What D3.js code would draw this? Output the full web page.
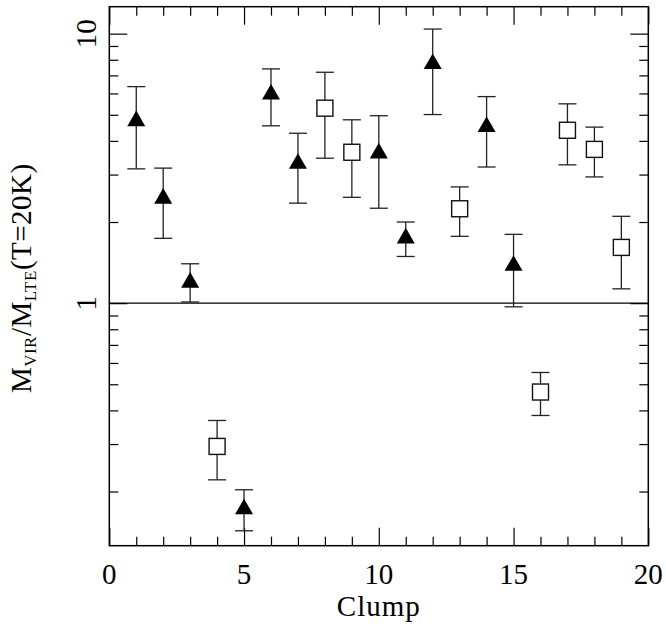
<!DOCTYPE html>
<html>
<head>
<meta charset="utf-8">
<script src="https://cdn.jsdelivr.net/npm/d3@7"></script>
<style>
  body { margin: 0; background: #fff; }
  svg text { font-family: "Liberation Serif", "DejaVu Serif", serif; fill: #000; }
</style>
</head>
<body>
<svg id="chart"></svg>
<script>
(function() {
    // clump number, M_vir/M_lte, upper / lower error limits, marker kind
    const clumps = [1, 2, 3, 4, 5, 6, 7, 8, 9, 10, 11, 12, 13, 14, 15, 16, 17, 18, 19];
    const ratio = [4.85, 2.50, 1.22, 0.294, 0.176, 6.09, 3.37, 5.29, 3.63, 3.68, 1.78, 7.90, 2.24, 4.61, 1.41, 0.468, 4.38, 3.72, 1.61];
    const upper = [6.36, 3.17, 1.40, 0.367, 0.203, 7.40, 4.27, 7.19, 4.79, 4.96, 2.00, 10.4, 2.70, 5.84, 1.80, 0.553, 5.49, 4.50, 2.10];
    const lower = [3.15, 1.74, 1.01, 0.221, 0.143, 4.55, 2.35, 3.45, 2.47, 2.25, 1.49, 5.01, 1.77, 3.20, 0.969, 0.383, 3.26, 2.94, 1.13];
    const kind = ['tri', 'tri', 'tri', 'sq', 'tri', 'tri', 'tri', 'sq', 'sq', 'tri', 'tri', 'tri', 'sq', 'tri', 'tri', 'sq', 'sq', 'sq', 'sq'];

    const xMajor = [0, 5, 10, 15, 20];
    const xMinor = [1, 2, 3, 4, 6, 7, 8, 9, 11, 12, 13, 14, 16, 17, 18, 19];
    const yMajor = [1, 10];
    const yMinor = [0.2, 0.3, 0.4, 0.5, 0.6, 0.7, 0.8, 0.9, 2, 3, 4, 5, 6, 7, 8, 9];

    const W = 666, H = 631;
    const left = 109.3, right = 648.3, top = 6.7, bottom = 545.7;

    const svg = d3.select('svg#chart')
        .attr('width', W)
        .attr('height', H);

    const xScale = d3.scaleLinear()
        .domain([0, 20])
        .range([left, right]);

    const yScale = d3.scaleLog()
        .domain([Math.pow(10, -0.9), Math.pow(10, 1.1)])
        .range([bottom, top]);

    const data = clumps.map((c, i) => ({ clump: c, v: ratio[i], hi: upper[i], lo: lower[i], kind: kind[i] }));

    // inward ticks on all four sides
    function ticks(axisFn, pos, values, size, transform) {
        const g = svg.append('g')
            .attr('transform', transform)
            .call(axisFn(pos).tickValues(values).tickSize(-size).tickFormat(''));
        g.select('.domain').remove();
        g.selectAll('line').attr('stroke', '#000').attr('stroke-width', 1.2);
    }
    ticks(d3.axisBottom, xScale, xMajor, 18, `translate(0, ${bottom})`);
    ticks(d3.axisBottom, xScale, xMinor, 9, `translate(0, ${bottom})`);
    ticks(d3.axisTop, xScale, xMajor, 18, `translate(0, ${top})`);
    ticks(d3.axisTop, xScale, xMinor, 9, `translate(0, ${top})`);
    ticks(d3.axisLeft, yScale, yMajor, 18, `translate(${left}, 0)`);
    ticks(d3.axisLeft, yScale, yMinor, 9, `translate(${left}, 0)`);
    ticks(d3.axisRight, yScale, yMajor, 18, `translate(${right}, 0)`);
    ticks(d3.axisRight, yScale, yMinor, 9, `translate(${right}, 0)`);

    // frame
    svg.append('rect')
        .attr('x', left)
        .attr('y', top)
        .attr('width', right - left)
        .attr('height', bottom - top)
        .attr('fill', 'none')
        .attr('stroke', '#000')
        .attr('stroke-width', 1.5);

    // M = 1 line
    svg.append('line')
        .attr('x1', left)
        .attr('x2', right)
        .attr('y1', yScale(1))
        .attr('y2', yScale(1))
        .attr('stroke', '#000')
        .attr('stroke-width', 1.4);

    // tick labels
    svg.append('g')
        .selectAll('text')
        .data(xMajor)
        .enter()
        .append('text')
        .attr('x', (d) => xScale(d))
        .attr('y', 584)
        .attr('text-anchor', 'middle')
        .style('font-size', '29px')
        .text((d) => d);

    svg.append('g')
        .selectAll('text')
        .data(yMajor)
        .enter()
        .append('text')
        .attr('transform', (d) => `translate(96, ${yScale(d)}) rotate(-90)`)
        .attr('text-anchor', 'middle')
        .style('font-size', '29px')
        .text((d) => d);

    // axis titles
    svg.append('text')
        .attr('x', (left + right) / 2)
        .attr('y', 616)
        .attr('text-anchor', 'middle')
        .style('font-size', '29px')
        .style('letter-spacing', '1px')
        .text('Clump');

    const yt = svg.append('text')
        .attr('transform', `translate(31, ${(top + bottom) / 2 + 2}) rotate(-90)`)
        .attr('text-anchor', 'middle')
        .style('font-size', '29px')
        .style('letter-spacing', '0.5px');
    yt.append('tspan').text('M');
    yt.append('tspan').attr('dy', 5).style('font-size', '17px').text('VIR');
    yt.append('tspan').attr('dy', -5).text('/M');
    yt.append('tspan').attr('dy', 5).style('font-size', '17px').text('LTE');
    yt.append('tspan').attr('dy', -5).text('(T=20K)');

    // error bars
    const cap = 9;
    const bars = svg.append('g')
        .selectAll('g')
        .data(data)
        .enter()
        .append('g')
        .attr('stroke', '#222')
        .attr('stroke-width', 1.3);

    bars.append('line')
        .attr('x1', (d) => xScale(d.clump))
        .attr('x2', (d) => xScale(d.clump))
        .attr('y1', (d) => yScale(d.hi))
        .attr('y2', (d) => yScale(d.lo));
    bars.append('line')
        .attr('x1', (d) => xScale(d.clump) - cap)
        .attr('x2', (d) => xScale(d.clump) + cap)
        .attr('y1', (d) => yScale(d.hi))
        .attr('y2', (d) => yScale(d.hi));
    bars.append('line')
        .attr('x1', (d) => xScale(d.clump) - cap)
        .attr('x2', (d) => xScale(d.clump) + cap)
        .attr('y1', (d) => yScale(d.lo))
        .attr('y2', (d) => yScale(d.lo));

    // markers
    const tri = 9, triH = 7.8, sq = 8;
    svg.append('g')
        .selectAll('path')
        .data(data.filter((d) => d.kind === 'tri'))
        .enter()
        .append('path')
        .attr('d', (d) => {
            const cx = xScale(d.clump), cy = yScale(d.v);
            return `M${cx},${cy - triH}L${cx + tri},${cy + triH}L${cx - tri},${cy + triH}Z`;
        })
        .attr('fill', '#000');

    svg.append('g')
        .selectAll('rect')
        .data(data.filter((d) => d.kind === 'sq'))
        .enter()
        .append('rect')
        .attr('x', (d) => xScale(d.clump) - sq)
        .attr('y', (d) => yScale(d.v) - sq)
        .attr('width', 2 * sq)
        .attr('height', 2 * sq)
        .attr('fill', '#fff')
        .attr('stroke', '#111')
        .attr('stroke-width', 1.4);
})();
</script>
</body>
</html>
